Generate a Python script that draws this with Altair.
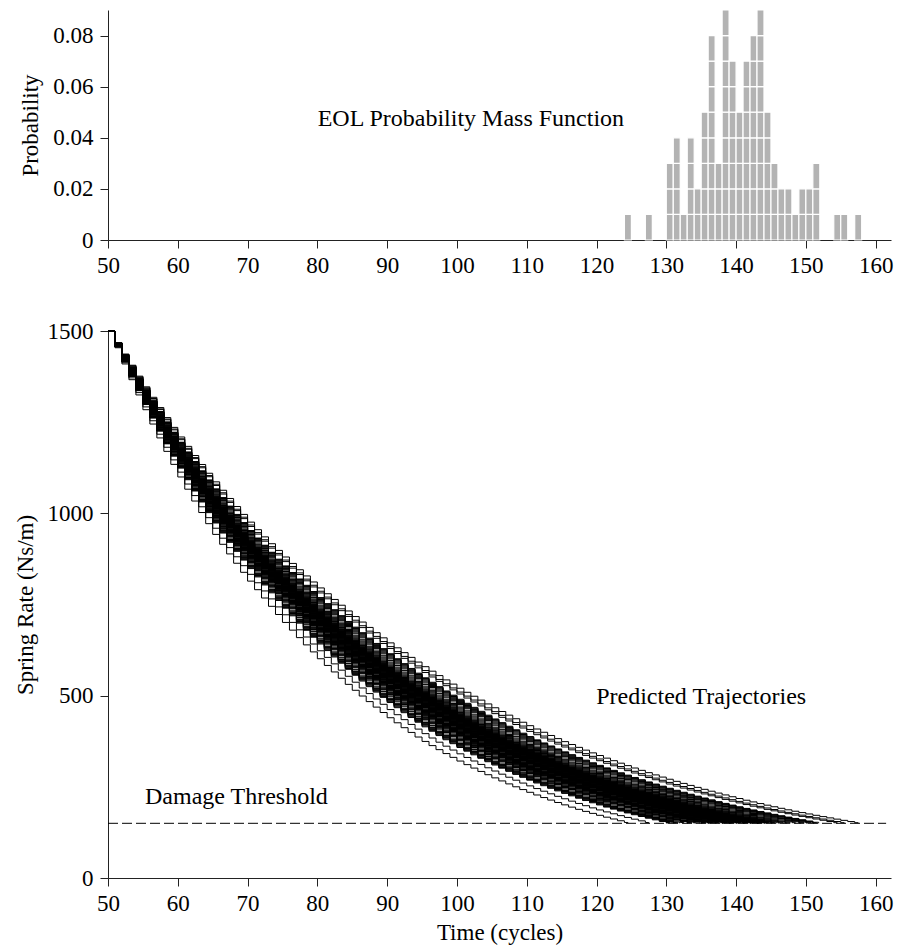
import altair as alt
import numpy as np
import pandas as pd

# ---- data ----
# EOL probability mass function: cycle -> number of 0.01 units
eol_cycles = [124, 127, 130, 131, 132, 133, 134, 135, 136, 137, 138, 139, 140,
              141, 142, 143, 144, 145, 146, 147, 148, 149, 150, 151, 154, 155, 157]
eol_counts = [1, 1, 3, 4, 1, 4, 2, 5, 8, 3, 9, 7, 5,
              7, 8, 9, 5, 3, 2, 2, 1, 2, 2, 3, 1, 1, 1]
prob_unit = 0.01

# degradation profile read along the band (fraction of life -> spring rate)
profile_frac = [0.0, 0.1, 0.2, 0.3, 0.4, 0.5, 0.6, 0.7, 0.8, 0.9, 1.0]
profile_rate = [1500, 1190, 945, 760, 605, 480, 378, 300, 238, 188, 150]

t_start = 50
threshold = 150

time_ticks = [50, 60, 70, 80, 90, 100, 110, 120, 130, 140, 150, 160]
prob_ticks = [0, 0.02, 0.04, 0.06, 0.08]
rate_ticks = [0, 500, 1000, 1500]

ann_top_text = ["EOL Probability Mass Function"]
ann_top_x = [102]
ann_top_y = [0.0475]
ann_main_text = ["Damage Threshold", "Predicted Trajectories"]
ann_main_x = [55.3, 135]
ann_main_y = [222, 497]
ann_main_align = ["left", "center"]

# ---- tables ----
hist = pd.DataFrame(
    [(c, k) for c, n in zip(eol_cycles, eol_counts) for k in range(n)],
    columns=["cycle", "k"],
)

# each trajectory crosses the threshold somewhere inside its EOL cycle
log_prof = np.log(profile_rate)
rows = []
tid = 0
for c, n in zip(eol_cycles, eol_counts):
    for k in range(n):
        T = c + (k + 0.5) / n
        ts = list(range(t_start, int(np.floor(T)) + 1)) + [T]
        for t in ts:
            f = (t - t_start) / (T - t_start)
            rows.append((tid, t, float(np.exp(np.interp(f, profile_frac, log_prof)))))
        tid += 1
traj = pd.DataFrame(rows, columns=["id", "t", "rate"])

FONT = "Liberation Serif"
W = 783
xdom = [50, 162.2]

xscale = alt.Scale(domain=xdom, nice=False, zero=False)

def xaxis(title=None):
    kw = dict(values=time_ticks, grid=False, tickSize=8, labelPadding=6,
              labelFontSize=23, labelFont=FONT, labelColor="#000",
              domainColor="#222", tickColor="#222", labelFlush=False)
    if title:
        kw.update(title=title, titleFont=FONT, titleFontSize=23,
                  titleFontWeight="normal", titleColor="#000", titlePadding=6)
    else:
        kw.update(title=None)
    return alt.Axis(**kw)

def yaxis(title, values, fmt):
    return alt.Axis(title=title, values=values, format=fmt, grid=False,
                    tickSize=8, labelPadding=7, labelFontSize=23, labelFont=FONT,
                    labelColor="#000", domainColor="#222", tickColor="#222",
                    titleFont=FONT, titleFontSize=23, titleFontWeight="normal",
                    titleColor="#000", titlePadding=10, labelFlush=False)

bars = alt.Chart(hist).transform_calculate(
    x2="datum.cycle + 1",
    y0=f"datum.k * {prob_unit}",
    y1=f"(datum.k + 1) * {prob_unit}",
).mark_rect(color="#b3b3b3", stroke="white", strokeWidth=1.2).encode(
    x=alt.X("cycle:Q", scale=xscale, axis=xaxis()),
    x2="x2:Q",
    y=alt.Y("y0:Q", scale=alt.Scale(domain=[0, 0.09], nice=False),
            axis=yaxis("Probability", prob_ticks, "~g")),
    y2="y1:Q",
)

top_ann = alt.Chart(pd.DataFrame({"text": ann_top_text, "x": ann_top_x, "y": ann_top_y})).mark_text(
    font=FONT, fontSize=24, color="#000", align="center", baseline="middle"
).encode(x="x:Q", y="y:Q", text="text:N")

top = alt.layer(bars, top_ann).properties(width=W, height=230)

lines = alt.Chart(traj).mark_line(
    color="black", strokeWidth=1, interpolate="step-after"
).encode(
    x=alt.X("t:Q", scale=xscale, axis=xaxis("Time (cycles)")),
    y=alt.Y("rate:Q", scale=alt.Scale(domain=[0, 1500], nice=False),
            axis=yaxis("Spring Rate (Ns/m)", rate_ticks, "d")),
    detail="id:N",
)

thr = alt.Chart(pd.DataFrame({"y": [threshold]})).mark_rule(
    color="black", strokeWidth=1, strokeDash=[10, 4]
).encode(x=alt.datum(50), x2=alt.datum(161.5), y="y:Q")

ann_df = pd.DataFrame({"text": ann_main_text, "x": ann_main_x,
                       "y": ann_main_y, "align": ann_main_align})

main_ann = alt.Chart(ann_df).transform_filter("datum.align == 'left'").mark_text(
    font=FONT, fontSize=24, color="#000", align="left", baseline="middle"
).encode(x="x:Q", y="y:Q", text="text:N")

main_ann2 = alt.Chart(ann_df).transform_filter("datum.align == 'center'").mark_text(
    font=FONT, fontSize=24, color="#000", align="center", baseline="middle"
).encode(x="x:Q", y="y:Q", text="text:N")

main = alt.layer(lines, thr, main_ann, main_ann2).properties(width=W, height=547)

chart = alt.vconcat(top, main, spacing=43).properties(
    padding={"left": 14, "top": 9, "right": 5, "bottom": 5}
).configure_view(stroke=None).configure_axis(domainWidth=1, tickWidth=1)

chart.save("out.html", embed_options={"renderer": "svg", "actions": False})
